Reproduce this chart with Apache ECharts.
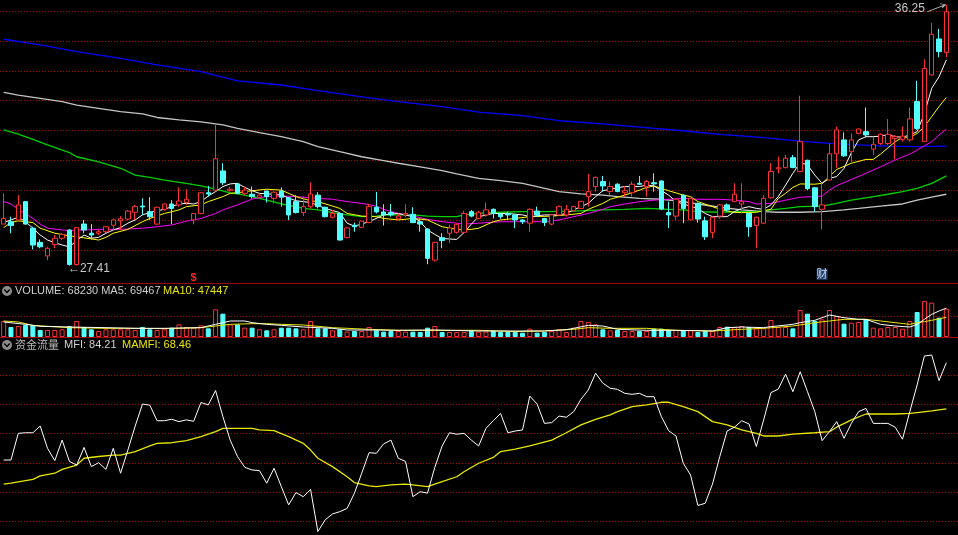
<!DOCTYPE html>
<html><head><meta charset="utf-8">
<script src="https://cdn.jsdelivr.net/npm/echarts@6/dist/echarts.min.js"></script>
<style>html,body{margin:0;padding:0;background:#000;}#c{width:958px;height:535px;}</style>
</head><body><div id="c"></div>
<script>
// ---------- data ----------
const openP = [28.82,28.90,28.96,29.58,28.68,28.20,27.74,28.13,28.34,28.62, 27.45,28.82,28.51,28.51,28.56,28.78,28.93,28.99,29.22,29.43, 29.24,28.82,29.32,29.50,29.47,29.55,28.96,29.18,29.88,29.97, 30.62,29.95,30.18,29.86,29.83,29.73,29.94,29.69,29.94,29.71, 29.58,29.21,29.41,29.80,29.39,29.05,29.18,28.36,28.78,28.71, 28.87,29.39,29.23,29.21,29.00,29.13,29.15,28.90,28.65,27.60, 28.36,28.51,28.54,28.54,29.24,29.01,29.13,29.32,29.16,29.18, 29.13,28.96,28.85,29.26,29.01,28.82,29.13,29.13,29.27,29.35, 29.75,30.09,30.26,29.92,30.17,29.88,29.88,30.20,30.09,30.22, 30.28,29.21,29.09,29.80,28.96,29.52,28.93,28.54,29.09,29.47, 29.58,29.50,29.18,28.77,28.85,29.71,30.69,30.73,31.07,30.60, 30.98,30.05,29.32,30.31,31.20,31.67,31.27,31.89,31.95,31.36, 31.55,31.55,31.72,31.69,31.67,32.97,31.61,33.87,35.09,34.63];
const closeP = [29.01,28.77,29.47,28.82,28.11,28.05,28.00,28.34,28.47,27.45, 28.70,28.62,28.45,28.56,28.73,28.96,29.00,29.26,29.41,29.40, 29.07,29.39,29.50,29.35,29.60,29.66,29.18,29.88,29.84,31.03, 30.22,30.00,29.86,29.97,29.75,29.80,29.75,29.90,29.73,29.13, 29.21,29.41,29.84,29.41,29.07,29.18,28.28,28.69,28.73,28.92, 29.41,29.23,29.13,29.13,29.09,29.18,28.87,28.82,27.66,28.20, 28.26,28.69,28.81,29.18,29.09,29.22,29.30,29.18,29.07,29.13, 28.96,28.90,29.32,29.13,28.87,29.13,29.41,29.32,29.41,29.59, 29.92,30.40,30.11,30.09,29.92,29.95,30.17,30.17,30.26,30.18, 29.33,29.13,29.66,29.35,29.69,28.99,28.39,29.05,29.47,29.30, 29.83,29.58,28.73,29.05,29.69,30.60,30.73,31.05,30.74,31.61, 30.02,29.41,29.47,31.20,32.01,31.13,31.67,32.04,31.84,31.52, 31.86,31.86,31.78,31.80,32.38,32.06,34.09,35.25,34.66,36.01];
const lowP = [28.82,28.51,28.96,28.80,27.96,28.00,27.60,28.00,28.28,27.41, 27.41,28.51,28.30,28.45,28.51,28.62,28.62,28.96,28.96,29.13, 28.96,28.80,29.27,28.82,29.41,29.47,28.81,29.15,29.75,29.95, 30.14,29.92,29.84,29.80,29.69,29.69,29.55,29.52,29.41,28.96, 29.18,29.09,29.35,29.35,29.05,29.01,28.26,28.34,28.56,28.68, 28.85,29.18,28.77,29.07,28.96,29.05,28.85,28.56,27.46,27.55, 28.00,28.17,28.50,28.51,29.05,28.98,29.07,29.01,29.00,28.96, 28.68,28.82,28.56,29.07,28.75,28.78,29.10,29.07,29.24,29.33, 29.41,29.92,29.92,29.80,29.90,29.75,29.75,30.14,29.75,29.92, 29.30,28.68,28.96,28.85,28.94,28.87,28.28,28.34,29.00,29.24, 29.58,29.18,28.39,28.00,28.83,29.69,30.54,30.71,30.71,30.58, 29.97,29.24,28.64,30.29,30.71,31.10,30.91,31.86,31.76,31.16, 31.50,31.50,31.01,31.61,31.61,32.01,31.61,33.85,34.47,34.47];
const highP = [29.86,29.07,29.80,29.60,28.73,28.30,28.05,28.45,28.51,28.65, 28.70,28.96,28.82,28.62,28.75,29.01,29.09,29.30,29.47,29.69, 29.73,29.41,29.52,29.63,30.06,30.00,29.20,29.90,30.11,32.18, 30.88,30.09,30.20,30.09,30.09,29.83,29.95,29.92,30.06,29.73, 29.80,29.75,30.23,29.90,29.41,29.30,29.20,28.71,28.87,28.93, 29.50,29.91,29.49,29.50,29.18,29.49,29.39,29.01,28.68,28.22, 28.51,28.80,28.85,29.27,29.30,29.27,29.55,29.35,29.18,29.24, 29.15,28.98,29.35,29.41,29.03,29.15,29.45,29.47,29.45,29.60, 30.52,30.43,30.45,30.26,30.20,30.11,30.26,30.45,30.31,30.54, 30.30,29.58,29.68,29.82,29.71,29.55,29.07,29.07,29.50,29.52, 30.20,30.20,29.20,29.07,29.80,30.88,31.10,31.16,31.16,33.17, 31.00,30.07,30.22,31.55,32.12,31.93,31.89,32.06,32.77,31.78, 31.89,32.38,31.84,32.12,32.77,33.67,34.40,35.64,35.43,36.25];
const volume = [38600,24100,26500,28900,28100,16900,16900,16900,18500,26500, 38600,24100,18500,14500,18500,18500,18500,18500,16900,24100, 18500,16900,18500,22500,30500,24100,22500,28100,20900,66700, 56300,30500,30500,22500,22500,18500,16100,18500,22500,22500, 20900,18500,38600,20900,20900,16100,18500,12900,14500,14500, 24100,16100,12900,14500,14500,12900,12900,12100,22500,26500, 12100,12100,12100,12100,14500,12900,12900,14500,12100,12100, 12100,10400,20100,10400,12100,14500,18500,12100,22500,38600, 36200,30500,18500,16100,16900,14500,14500,14500,14500,20100, 20100,16900,16900,16900,16900,12100,14500,14500,24100,24900, 24100,26500,24100,20900,20900,41000,24100,24100,20900,65100, 56300,38600,42600,65100,50600,32100,34600,36200,42600,22500, 20900,24100,24100,20100,38600,60300,86800,82800,46600,68230];

// moving-average lines read at the listed day indexes: [dayIndex, value]
const ma5 = [[0,28.87],[2,29.05],[3,28.90],[4,28.68],[5,28.45],[6,28.28],[7,28.19],[8,28.11],[9,28.05],[10,28.26],[11,28.45],[12,28.34],[13,28.37],[14,28.51],[15,28.62],[16,28.70],[17,28.85],[18,28.96],[19,29.13],[20,29.21],[21,29.27],[22,29.32],[23,29.41],[24,29.50],[25,29.52],[26,29.50],[27,29.58],[28,29.77],[29,29.92],[30,30.09],[31,30.18],[32,30.20],[33,30.06],[34,29.95],[35,29.86],[37,29.83],[38,29.80],[40,29.61],[42,29.55],[44,29.35],[46,29.21],[47,28.85],[48,28.75],[50,28.90],[52,29.13],[54,29.18],[56,29.07],[57,28.90],[58,28.62],[59,28.47],[60,28.33],[62,28.30],[63,28.53],[64,28.82],[65,29.07],[67,29.18],[69,29.18],[71,29.13],[72,29.07],[74,29.13],[76,29.13],[77,29.18],[78,29.30],[80,29.52],[81,29.75],[82,29.95],[84,30.05],[85,30.09],[87,30.09],[88,30.14],[89,30.11],[91,29.80],[92,29.58],[93,29.50],[95,29.35],[96,29.18],[97,29.07],[98,29.07],[99,29.07],[100,29.24],[101,29.35],[102,29.41],[103,29.35],[104,29.32],[105,29.47],[106,29.75],[107,30.14],[108,30.54],[109,30.91],[110,30.82],[111,30.48],[112,30.20],[113,30.37],[114,30.43],[115,30.71],[116,31.24],[117,31.67],[118,31.78],[119,31.78],[120,31.80],[121,31.84],[122,31.78],[123,31.76],[124,31.84],[125,31.95],[126,32.57],[127,33.42],[128,33.81],[129,34.38]];
const ma10 = [[0,28.70],[1,28.87],[2,28.93],[4,28.87],[5,28.68],[7,28.51],[9,28.42],[10,28.39],[13,28.28],[14,28.37],[15,28.51],[17,28.64],[19,28.90],[20,29.01],[22,29.18],[24,29.30],[25,29.41],[27,29.47],[28,29.58],[30,29.75],[31,29.86],[32,29.88],[34,29.95],[36,30.00],[38,29.97],[40,29.75],[42,29.61],[43,29.58],[45,29.43],[46,29.35],[47,29.18],[49,29.09],[51,29.07],[52,29.01],[54,28.96],[56,29.01],[58,28.96],[60,28.73],[62,28.64],[64,28.64],[65,28.68],[67,28.90],[68,28.96],[70,29.01],[72,29.07],[75,29.09],[77,29.13],[79,29.18],[80,29.32],[82,29.52],[83,29.66],[85,29.80],[87,29.97],[88,30.06],[89,30.11],[91,29.95],[93,29.80],[94,29.75],[95,29.58],[97,29.41],[98,29.32],[100,29.21],[102,29.21],[103,29.22],[105,29.32],[106,29.69],[107,29.86],[108,30.06],[109,30.18],[111,30.17],[112,30.20],[113,30.43],[114,30.67],[116,30.88],[118,31.01],[119,31.01],[120,31.19],[122,31.61],[123,31.76],[124,31.76],[125,31.89],[126,32.12],[127,32.46],[128,32.80],[129,33.11]];
const ma20 = [[0,29.58],[1,29.50],[2,29.32],[4,29.01],[5,28.82],[6,28.68],[8,28.62],[9,28.60],[11,28.62],[13,28.64],[16,28.64],[19,28.68],[21,28.73],[23,28.79],[25,28.92],[27,29.01],[29,29.18],[30,29.30],[32,29.47],[34,29.67],[36,29.75],[38,29.77],[40,29.75],[41,29.73],[43,29.69],[45,29.66],[47,29.58],[49,29.52],[51,29.43],[52,29.32],[54,29.18],[56,29.09],[58,28.98],[60,28.90],[62,28.85],[63,28.82],[65,28.85],[68,28.90],[71,28.90],[74,28.90],[76,28.96],[78,29.07],[80,29.18],[82,29.32],[83,29.41],[85,29.50],[87,29.58],[89,29.63],[91,29.66],[93,29.69],[95,29.66],[98,29.66],[100,29.63],[102,29.58],[103,29.50],[105,29.52],[107,29.63],[109,29.73],[111,29.75],[112,29.77],[113,29.97],[114,30.12],[116,30.33],[118,30.54],[120,30.76],[122,30.99],[124,31.19],[125,31.33],[127,31.61],[128,31.84],[129,32.03]];
const ma60 = [[0,32.01],[2,31.87],[4,31.69],[6,31.50],[9,31.24],[10,31.10],[13,30.93],[16,30.71],[18,30.48],[20,30.40],[22,30.31],[25,30.20],[27,30.11],[29,30.00],[31,29.88],[32,29.84],[34,29.75],[36,29.63],[38,29.50],[40,29.41],[41,29.35],[43,29.30],[45,29.21],[47,29.13],[49,29.07],[51,29.09],[52,29.13],[54,29.13],[56,29.13],[58,29.09],[60,29.07],[62,29.07],[63,29.13],[65,29.18],[68,29.22],[71,29.24],[74,29.24],[78,29.26],[82,29.30],[85,29.32],[88,29.35],[91,29.32],[93,29.30],[95,29.24],[98,29.22],[101,29.24],[103,29.24],[105,29.30],[107,29.35],[109,29.41],[112,29.43],[114,29.52],[116,29.63],[119,29.75],[121,29.83],[123,29.92],[125,30.03],[127,30.20],[129,30.45]];
const ma120 = [[0,33.28],[2,33.19],[5,33.08],[8,32.97],[10,32.85],[13,32.74],[16,32.63],[19,32.55],[21,32.43],[24,32.35],[27,32.28],[30,32.18],[32,32.06],[35,31.92],[38,31.78],[41,31.61],[43,31.44],[46,31.27],[49,31.10],[52,30.97],[54,30.88],[57,30.76],[60,30.63],[62,30.52],[65,30.37],[68,30.29],[71,30.20],[73,30.09],[76,29.92],[79,29.84],[82,29.80],[84,29.75],[87,29.69],[90,29.66],[93,29.58],[95,29.50],[98,29.39],[101,29.30],[104,29.24],[106,29.22],[109,29.22],[112,29.24],[115,29.30],[117,29.35],[120,29.43],[123,29.50],[125,29.63],[127,29.73],[129,29.83]];
const ma250 = [[0,35.08],[5,34.89],[10,34.66],[16,34.43],[21,34.21],[27,33.98],[32,33.67],[38,33.53],[43,33.34],[49,33.13],[54,32.97],[60,32.80],[65,32.61],[71,32.49],[76,32.32],[82,32.21],[87,32.10],[93,31.98],[98,31.86],[104,31.75],[109,31.63],[113,31.55],[117,31.50],[121,31.46],[125,31.44],[129,31.46]];

const volMa5 = [[0,36200],[3,30500],[5,25700],[9,24100],[14,22500],[18,20900],[22,20900],[27,22500],[29,30500],[31,38600],[33,38600],[34,34600],[36,30500],[38,28100],[41,24100],[43,22500],[45,20900],[47,16900],[50,16900],[54,16100],[59,16900],[65,14500],[70,14500],[74,14500],[77,17700],[78,20900],[80,28100],[82,26500],[84,18500],[88,16100],[92,16100],[97,14500],[99,22500],[101,24100],[104,22500],[105,24900],[108,30500],[109,34600],[111,40200],[113,53000],[115,46600],[117,42600],[118,42600],[120,30500],[122,26500],[124,24100],[125,30500],[126,42600],[127,54600],[128,62700],[129,69467]];
const volMa10 = [[0,38600],[2,36200],[4,28100],[9,22500],[14,20900],[18,20900],[22,20100],[27,22500],[29,26500],[31,30500],[34,32100],[36,32100],[38,30500],[41,28900],[45,22500],[50,18500],[54,16100],[59,16100],[65,16100],[70,12900],[74,14500],[78,18500],[80,22500],[83,20900],[88,20900],[92,16100],[97,14500],[101,18500],[104,20900],[108,26500],[111,34600],[113,38600],[115,42600],[118,42600],[120,38600],[122,34600],[124,30500],[125,34600],[126,37000],[127,40200],[129,47447]];

const mfi = [51.0,51.0,60.1,60.3,60.3,62.6,55.0,50.8,57.8,50.5, 49.3,55.3,48.75,50.1,47.8,55.0,46.5,54.4,62.6,70.1, 69.7,64.4,64.4,64.9,64.1,64.7,64.2,70.6,69.8,74.7, 65.8,57.8,52.2,48.5,47.6,47.4,43.1,48.2,41.9,35.7, 39.9,38.5,41.0,26.6,30.6,32.6,33.4,34.5,39.7,46.5, 53.5,53.3,56.5,57.8,51.6,50.5,38.5,40.2,39.7,48.5, 55.8,60.3,59.8,60.1,57.8,55.8,61.8,64.4,66.9,60.3, 60.9,61.25,72.8,70.1,63.5,63.75,66.0,65.6,67.5,71.7, 74.9,80.6,77.2,75.5,75.1,73.75,73.4,73.75,72.6,72.6, 65.8,61.0,59.2,49.9,45.9,35.5,36.25,42.8,52.2,60.9, 62.2,64.4,63.3,55.6,64.7,74.0,75.2,80.3,74.3,81.1, 74.3,67.5,57.6,60.7,64.1,58.4,63.5,67.5,68.6,63.5, 63.5,63.5,62.2,58.1,67.5,76.6,86.5,86.8,78.1,84.21];
const mamfi = [[0,42.8],[1,43.1],[4,44.4],[5,45.6],[7,46.5],[8,47.8],[10,49.3],[11,51.6],[13,52.2],[15,52.7],[16,52.7],[18,53.9],[20,55.8],[21,56.7],[23,56.9],[25,57.6],[27,59.0],[29,60.7],[30,61.8],[31,61.8],[34,61.8],[35,61.25],[37,61.0],[39,59.0],[41,56.7],[42,54.4],[43,51.6],[45,48.75],[47,45.3],[48,43.3],[50,42.2],[51,41.9],[53,42.5],[55,42.8],[56,42.5],[58,41.9],[60,43.6],[62,45.3],[63,47.0],[65,49.9],[67,51.9],[68,53.9],[70,54.7],[72,55.8],[75,57.8],[77,60.3],[79,63.0],[81,64.9],[83,66.4],[84,67.5],[86,69.2],[88,69.8],[90,70.7],[91,70.7],[93,69.2],[95,67.5],[97,64.1],[99,63.0],[101,61.25],[103,60.1],[104,59.2],[106,59.2],[108,59.8],[111,60.3],[113,60.7],[114,62.2],[116,64.7],[118,66.7],[120,66.7],[122,66.7],[124,66.9],[125,67.2],[127,67.8],[129,68.46]];

const days = openP.map((_, i) => String(i));
const mfiTicks = [30, 40, 50, 60, 70, 80];
const lowMark = {day: 9, value: 27.41};
const highMark = {day: 129, value: 36.25};
const eventMarks = [{day: 26, text: '$'}, {day: 112, text: '财'}];

// ---------- build ----------
const UP = '#ff3232', DOWN = '#54ffff', GRID = '#b00000';
const candles = openP.map((o, i) => [o, closeP[i], lowP[i], highP[i]]);
const volData = volume.map((v, i) => {
  const up = closeP[i] >= openP[i];
  return {value: v, itemStyle: up ? {color: '#000', borderColor: UP, borderWidth: 1} : {color: DOWN, borderColor: DOWN, borderWidth: 1}};
});
const last = a => a[a.length - 1][1];

const chart = echarts.init(document.getElementById('c'), null, {renderer: 'canvas'});
const hiddenCat = (gi) => ({type: 'category', gridIndex: gi, data: days, boundaryGap: true, show: false});
const dotted = {show: true, lineStyle: {color: GRID, type: [1, 2], width: 1}};
const lineS = (data, color, xi, yi, w) => ({type: 'line', xAxisIndex: xi, yAxisIndex: yi, data, showSymbol: false, symbol: 'none', clip: false, smooth: false, connectNulls: true, lineStyle: {color, width: w || 1}, z: 3, silent: true});
const fontF = '"Liberation Sans", "Noto Sans CJK SC", Arial, sans-serif';

chart.setOption({
  backgroundColor: '#000',
  animation: false,
  grid: [
    {left: 0, width: 950, top: 0, height: 283},
    {left: 0, width: 950, top: 297, height: 40},
    {left: 0, width: 950, top: 375, height: 146.6},
    {left: 0, right: 0, top: 11, height: 239},
    {left: 0, right: 0, top: 316, height: 21},
    {left: 0, right: 0, top: 375, height: 146.6}
  ],
  xAxis: [hiddenCat(0), hiddenCat(1), hiddenCat(2),
    {type: 'value', gridIndex: 3, min: 0, max: 1, show: false},
    {type: 'value', gridIndex: 4, min: 0, max: 1, show: false},
    {type: 'value', gridIndex: 5, min: 0, max: 1, show: false}],
  yAxis: [
    {type: 'value', gridIndex: 0, min: 26.824, max: 36.409, show: false, splitLine: {show: false}},
    {type: 'value', gridIndex: 1, min: 0, max: 96440, show: false, splitLine: {show: false}},
    {type: 'value', gridIndex: 2, min: mfiTicks[0], max: mfiTicks[mfiTicks.length - 1], show: false, splitLine: {show: false}},
    {type: 'value', gridIndex: 3, min: 0, max: 8, interval: 1, axisLine: {show: false}, axisTick: {show: false}, axisLabel: {show: false}, splitLine: dotted},
    {type: 'value', gridIndex: 4, min: 0, max: 1, interval: 1, axisLine: {show: false}, axisTick: {show: false}, axisLabel: {show: false}, splitLine: dotted},
    {type: 'value', gridIndex: 5, min: mfiTicks[0], max: mfiTicks[mfiTicks.length - 1], interval: 10, axisLine: {show: false}, axisTick: {show: false}, axisLabel: {show: false}, splitLine: dotted}
  ],
  series: [
    lineS(ma250, '#0000ff', 0, 0, 1.3),
    lineS(ma120, '#c4c4c4', 0, 0, 1.3),
    lineS(ma60, '#00d000', 0, 0, 1.3),
    lineS(ma20, '#ff00ff', 0, 0),
    lineS(ma10, '#ffff00', 0, 0),
    lineS(ma5, '#ffffff', 0, 0),
    {
      type: 'candlestick', xAxisIndex: 0, yAxisIndex: 0, data: candles, barWidth: 5, z: 4, clip: false,
      itemStyle: {color: '#000', color0: DOWN, borderColor: UP, borderColor0: DOWN, borderWidth: 1},
      markPoint: {
        silent: true, animation: false,
        data: [
          {coord: [String(highMark.day), highMark.value], symbol: 'circle', symbolSize: 1, itemStyle: {color: 'rgba(0,0,0,0)'},
           label: {show: true, formatter: highMark.value.toFixed(2), position: 'left', distance: 21, offset: [0, 3.5], color: '#c8c8c8', fontSize: 12, fontFamily: fontF}},
          {coord: [String(highMark.day), highMark.value], symbol: 'path://M0,8 L17,1 M12,0 L17,1 L14,4', symbolSize: [18, 8], symbolKeepAspect: false, symbolOffset: [-10, 3],
           itemStyle: {color: 'rgba(0,0,0,0)', borderColor: '#c0c0c0', borderWidth: 1}, label: {show: false}},
          {coord: [String(lowMark.day), lowMark.value], symbol: 'circle', symbolSize: 1, itemStyle: {color: 'rgba(0,0,0,0)'},
           label: {show: true, formatter: '\u2190' + lowMark.value.toFixed(2), position: 'right', distance: 0, offset: [-2, 2.5], color: '#c8c8c8', fontSize: 12, fontFamily: fontF}},
          {coord: [String(eventMarks[0].day), 26.98], symbol: 'circle', symbolSize: 1, itemStyle: {color: 'rgba(0,0,0,0)'},
           label: {show: true, formatter: eventMarks[0].text, position: 'inside', color: '#ff2020', fontSize: 11, fontWeight: 'bold', fontFamily: fontF}},
          {coord: [String(eventMarks[1].day), 27.12], symbol: 'circle', symbolSize: 1, itemStyle: {color: 'rgba(0,0,0,0)'},
           label: {show: true, formatter: eventMarks[1].text, position: 'inside', color: '#c8d8f0', backgroundColor: '#22406a', padding: [0, 0, 0, 0], fontSize: 11, fontFamily: '"Noto Sans CJK SC", sans-serif', lineHeight: 11}}
        ]
      }
    },
    {type: 'bar', xAxisIndex: 1, yAxisIndex: 1, data: volData, barWidth: 5, z: 2, silent: true},
    lineS(volMa10, '#e8e800', 1, 1),
    lineS(volMa5, '#ffffff', 1, 1),
    lineS(mamfi, '#e8e800', 2, 2, 1.3),
    lineS(mfi, '#ffffff', 2, 2)
  ],
  graphic: [
    {type: 'line', shape: {x1: 0, y1: 283.5, x2: 958, y2: 283.5}, style: {stroke: '#a00000', lineWidth: 1}, silent: true},
    {type: 'line', shape: {x1: 0, y1: 337.5, x2: 958, y2: 337.5}, style: {stroke: '#a00000', lineWidth: 1}, silent: true},
    {type: 'circle', shape: {cx: 7, cy: 291, r: 5}, style: {fill: '#8c8c8c'}, silent: true},
    {type: 'polyline', shape: {points: [[4.3, 289.6], [7, 292.4], [9.7, 289.6]]}, style: {stroke: '#000', lineWidth: 1.4, fill: null}, silent: true},
    {type: 'circle', shape: {cx: 7, cy: 345, r: 5}, style: {fill: '#8c8c8c'}, silent: true},
    {type: 'polyline', shape: {points: [[4.3, 343.6], [7, 346.4], [9.7, 343.6]]}, style: {stroke: '#000', lineWidth: 1.4, fill: null}, silent: true},
    {type: 'text', x: 15, y: 291, style: {text: 'VOLUME: ' + volume[volume.length - 1] + ' MA5: ' + last(volMa5), fill: '#d0d0d0', fontSize: 11, fontFamily: fontF, verticalAlign: 'middle'}, silent: true},
    {type: 'text', x: 163, y: 291, style: {text: 'MA10: ' + last(volMa10), fill: '#e8e800', fontSize: 11, fontFamily: fontF, verticalAlign: 'middle'}, silent: true},
    {type: 'text', x: 15, y: 345, style: {text: '资金流量', fill: '#b8b8b8', fontSize: 11, fontFamily: '"Noto Sans CJK SC", sans-serif', verticalAlign: 'middle'}, silent: true},
    {type: 'text', x: 64, y: 345, style: {text: 'MFI: ' + mfi[mfi.length - 1].toFixed(2), fill: '#d0d0d0', fontSize: 11, fontFamily: fontF, verticalAlign: 'middle'}, silent: true},
    {type: 'text', x: 122, y: 345, style: {text: 'MAMFI: ' + last(mamfi).toFixed(2), fill: '#e8e800', fontSize: 11, fontFamily: fontF, verticalAlign: 'middle'}, silent: true}
  ]
});
</script></body></html>
